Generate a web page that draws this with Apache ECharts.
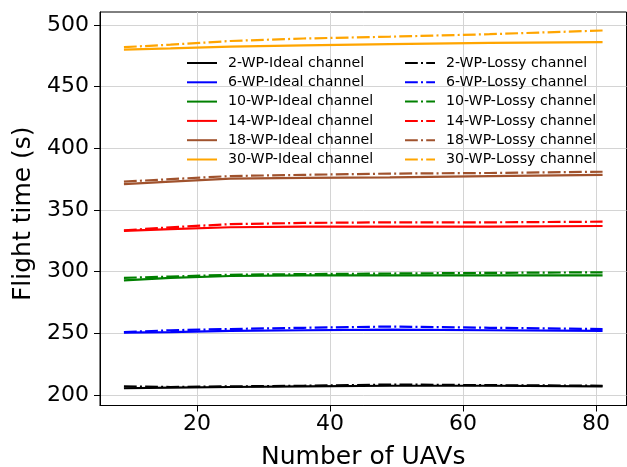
<!DOCTYPE html>
<html>
<head>
<meta charset="utf-8">
<script src="https://cdn.jsdelivr.net/npm/echarts@6/dist/echarts.min.js"></script>
<style>
html,body{margin:0;padding:0;background:#fff;}
#chart{width:627px;height:467px;}
</style>
</head>
<body>
<div id="chart"></div>
<script>
const uavs = [9, 16, 25, 36, 49, 64, 81];
const xTicks = [20, 40, 60, 80];
const yTicks = [200, 250, 300, 350, 400, 450, 500];

const ideal2  = [205.5, 206, 206.5, 207, 207.5, 207.5, 207];
const lossy2  = [207, 206.5, 207, 207.5, 208.5, 208, 207.5];
const ideal6  = [250.5, 251, 252, 252.5, 253, 252.5, 252];
const lossy6  = [251, 252.5, 253.5, 254.5, 255.5, 254.5, 253.5];
const ideal10 = [293, 295, 296.5, 297, 297, 297, 297];
const lossy10 = [295, 296, 297.5, 298, 298.5, 299, 299.5];
const ideal14 = [333, 334.5, 336, 336.5, 336.5, 336.5, 337];
const lossy14 = [333.5, 336, 338.5, 339.5, 340, 340, 340.5];
const ideal18 = [371, 373, 375.5, 376, 376.5, 377.5, 378.5];
const lossy18 = [373, 375, 377.5, 378.5, 379.5, 380, 381];
const ideal30 = [480, 481, 482.5, 483.5, 484.5, 485.5, 486];
const lossy30 = [482, 484, 487, 489, 490.5, 492.5, 495.5];

const wpNames = ['2', '6', '10', '14', '18', '30'];
const colors = ['#000000', '#0000ff', '#008000', '#ff0000', '#a0522d', '#ffa500'];
const idealData = [ideal2, ideal6, ideal10, ideal14, ideal18, ideal30];
const lossyData = [lossy2, lossy6, lossy10, lossy14, lossy18, lossy30];

const FONT = 'DejaVu Sans';
const series = [];
const idealNames = [], lossyNames = [];
wpNames.forEach((wp, i) => {
  const nI = wp + '-WP-Ideal channel';
  const nL = wp + '-WP-Lossy channel';
  idealNames.push(nI); lossyNames.push(nL);
  series.push({
    name: nI, type: 'line', symbol: 'none', silent: true,
    data: uavs.map((x, k) => [x, idealData[i][k]]),
    lineStyle: {color: colors[i], width: 2.2, type: 'solid'},
    itemStyle: {color: colors[i]}
  });
  series.push({
    name: nL, type: 'line', symbol: 'none', silent: true,
    data: uavs.map((x, k) => [x, lossyData[i][k]]),
    lineStyle: {color: colors[i], width: 2.2, type: [12.8, 3.2, 2, 3.2]},
    itemStyle: {color: colors[i]}
  });
});

const legendCommon = {
  orient: 'vertical', top: 56, padding: 0,
  itemWidth: 30, itemHeight: 14, itemGap: 5.3,
  selectedMode: false,
  itemStyle: {opacity: 0},
  textStyle: {fontFamily: FONT, fontSize: 14.2, color: '#000', lineHeight: 14, padding: [0, 0, 0, 6]}
};

const chart = echarts.init(document.getElementById('chart'), null, {renderer: 'canvas'});
chart.setOption({
  animation: false,
  backgroundColor: '#fff',
  grid: {left: 100, top: 12, right: 0.5, bottom: 61.5, outerBoundsMode: 'none', containLabel: false,
         show: true, borderColor: '#000', borderWidth: 1, backgroundColor: 'transparent'},
  legend: [
    Object.assign({}, legendCommon, {left: 186, data: idealNames}),
    Object.assign({}, legendCommon, {left: 404, data: lossyNames})
  ],
  xAxis: {
    type: 'value', min: 5.4, max: 84.6,
    name: 'Number of UAVs', nameLocation: 'middle', nameGap: 39,
    nameTextStyle: {fontFamily: FONT, fontSize: 25, color: '#000'},
    axisLine: {show: true, lineStyle: {color: '#000', width: 1}},
    axisTick: {show: true, inside: false, length: 6, customValues: xTicks, lineStyle: {color: '#000'}},
    axisLabel: {customValues: xTicks, margin: 8, fontFamily: FONT, fontSize: 22, color: '#000'},
    splitLine: {show: true, lineStyle: {color: '#d4d4d4', width: 1}}
  },
  yAxis: {
    type: 'value', min: 191.5, max: 510.5,
    name: 'Flight time (s)', nameLocation: 'middle', nameGap: 58,
    nameTextStyle: {fontFamily: FONT, fontSize: 25, color: '#000', padding: [0, 10, 0, 0]},
    axisLine: {show: true, lineStyle: {color: '#000', width: 1}},
    axisTick: {show: true, inside: false, length: 6, customValues: yTicks, lineStyle: {color: '#000'}},
    axisLabel: {customValues: yTicks, margin: 11, fontFamily: FONT, fontSize: 22, color: '#000'},
    splitLine: {show: true, lineStyle: {color: '#d4d4d4', width: 1}}
  },
  series: series
});
</script>
</body>
</html>
